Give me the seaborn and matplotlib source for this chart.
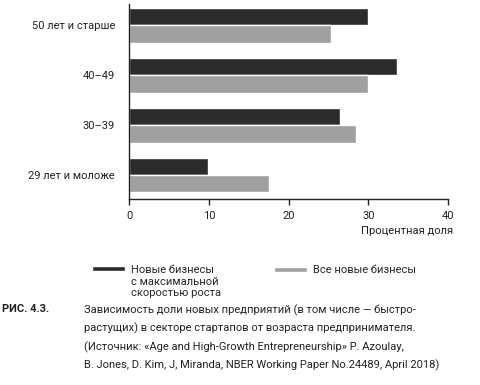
import pandas as pd
import seaborn as sns
import matplotlib.pyplot as plt
from matplotlib.patches import Patch, Rectangle
from matplotlib.legend_handler import HandlerPatch

# Age groups of founders
ages = ["50 лет и старше", "40–49", "30–39", "29 лет и моложе"]

# Share of startups, percent
top_growth = [30.0, 33.6, 26.4, 9.9]
all_new = [25.3, 29.9, 28.5, 17.5]

series = ["Новые бизнесы\nс максимальной\nскоростью роста", "Все новые бизнесы"]
colors = ["#2b2b2b", "#a0a0a0"]

df = pd.DataFrame({
    "Age": ages * 2,
    "Share": top_growth + all_new,
    "Series": [series[0]] * 4 + [series[1]] * 4,
})

sns.set_style("white")
plt.rcParams["font.family"] = ["Roboto", "DejaVu Sans"]
plt.rcParams["font.size"] = 8

fig = plt.figure(figsize=(4.81, 3.85), dpi=100)
ax = fig.add_axes([129.5 / 481, 1 - 199 / 385, (448 - 129.5) / 481, (199 - 4) / 385])

sns.barplot(data=df, y="Age", x="Share", hue="Series", palette=colors,
            orient="h", width=0.7, ax=ax, legend=False)

ax.set_xlim(0, 40)
ax.set_ylim(3.48, -0.42)
ax.set_xticks([0, 10, 20, 30, 40])
ax.set_ylabel("")
ax.set_xlabel("Процентная доля", fontsize=8, color="#222222")
ax.xaxis.set_label_coords(1.015, -0.14)
ax.xaxis.label.set_horizontalalignment("right")

for s in ["top", "right"]:
    ax.spines[s].set_visible(False)
for s in ["left", "bottom"]:
    ax.spines[s].set_color("#222222")
    ax.spines[s].set_linewidth(1.0)

ax.tick_params(axis="x", bottom=True, direction="out", length=4, width=1,
               colors="#222222", labelsize=8, pad=5)
ax.tick_params(axis="y", left=False, labelsize=8, colors="#222222", pad=7)


# legend below: patch lined up with the first line of a multi-line label
def top_patch(legend, orig_handle, xdescent, ydescent, width, height, fontsize):
    h = 0.45 * fontsize
    return Rectangle((-xdescent, -ydescent + (height - h) / 2 + 1.2 * fontsize), width, h)


def mid_patch(legend, orig_handle, xdescent, ydescent, width, height, fontsize):
    h = 0.45 * fontsize
    return Rectangle((-xdescent, -ydescent + (height - h) / 2), width, h)


handles = [Patch(facecolor=c) for c in colors]
legend_kw = dict(loc="upper left", frameon=False, fontsize=8, handlelength=3.0,
                 handletextpad=0.55, borderaxespad=0, borderpad=0)
fig.legend([handles[0]], [series[0]], bbox_to_anchor=(92 / 481, 1 - 265 / 385),
           handler_map={handles[0]: HandlerPatch(patch_func=top_patch)}, **legend_kw)
fig.legend([handles[1]], [series[1]], bbox_to_anchor=(274 / 481, 1 - 265 / 385),
           handler_map={handles[1]: HandlerPatch(patch_func=mid_patch)}, **legend_kw)

# caption
fig.text(2 / 481, 1 - 304 / 385, "РИС. 4.3.", fontsize=8, fontweight="bold",
         va="top", color="#222222")
caption = ("Зависимость доли новых предприятий (в том числе — быстро-\n"
           "растущих) в секторе стартапов от возраста предпринимателя.\n"
           "(Источник: «Age and High-Growth Entrepreneurship» P. Azoulay,\n"
           "B. Jones, D. Kim, J, Miranda, NBER Working Paper No.24489, April 2018)")
fig.text(84 / 481, 1 - 304 / 385, caption, fontsize=8, va="top", color="#222222",
         linespacing=1.8)

plt.savefig("out.png", dpi=100)
